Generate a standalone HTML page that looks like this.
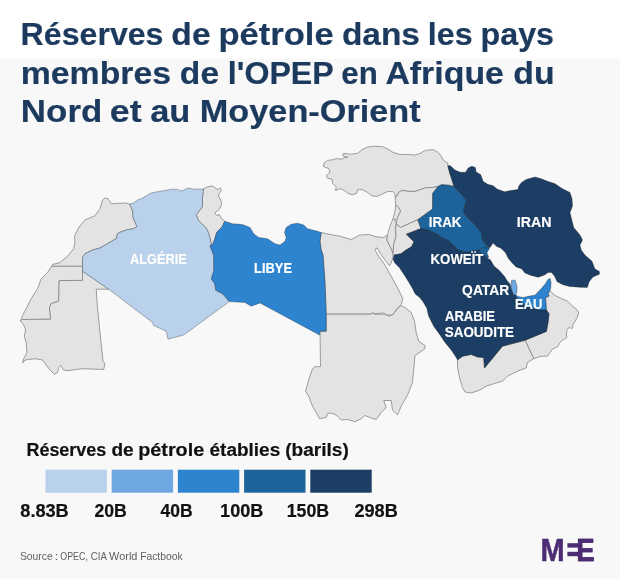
<!DOCTYPE html>
<html lang="fr">
<head>
<meta charset="utf-8">
<title>Réserves de pétrole dans les pays membres de l'OPEP</title>
<style>
html,body{margin:0;padding:0;background:#f8f8f8;}
body{width:620px;height:579px;overflow:hidden;font-family:"Liberation Sans",sans-serif;}
svg{display:block;}
text{font-family:"Liberation Sans",sans-serif;}
.t{font-weight:700;font-size:32px;fill:#1b3a5e;stroke:#1b3a5e;stroke-width:0.2;}
.c{font-weight:700;font-size:14.7px;fill:#ffffff;stroke:#ffffff;stroke-width:0.15;}
.lt{font-weight:700;font-size:18px;fill:#111111;stroke:#111111;stroke-width:0.2;}
.ll{font-weight:700;font-size:18px;fill:#111111;stroke:#111111;stroke-width:0.2;}
.src{font-size:10.7px;fill:#606060;}
.lg{font-weight:700;}
.g polygon{fill:#e3e3e3;stroke:#808080;stroke-width:0.75;stroke-linejoin:round;}
.b polygon{stroke:#000;stroke-opacity:0.4;stroke-width:0.7;stroke-linejoin:round;}
</style>
</head>
<body>
<svg width="620" height="579" viewBox="0 0 620 579">
<rect x="0" y="0" width="620" height="579" fill="#f8f8f8"/>
<rect x="0" y="0" width="620" height="58.5" fill="#ffffff"/>

<g class="g">
<polygon points="129.8,204 125,203 111.2,203.7 108,198.7 105,198 102.5,200 100,208.7 95,215.7 85,220 78.7,227.5 74.5,236.2 75,242.5 73.7,248.7 67.5,256.2 60,262.5 52.5,264.5 51.7,266.3 82.5,266.3 82.5,257.5 85,253.7 92.5,250 100,248 107.5,243.7 116.2,238.7 117.5,233.7 120,232.3 127.1,229.7 133.3,228.8 136.9,226.5 133.3,218.1 132.4,210.2"/>
<polygon points="51.7,266.3 82.5,266.3 82.5,280.4 59.2,280.6 58.7,301.2 51.2,303.7 49.5,307.5 50.7,319.2 22,319.5 20.5,321.2 22.5,315.5 26.2,308.7 31.2,298.7 37.5,288.7 41.2,278.7 47.5,272.5"/>
<polygon points="20.5,321.2 22,319.5 50.7,319.2 49.5,307.5 51.2,303.7 58.7,301.2 59.2,280.6 82.5,280.4 82.5,271.2 108.7,289.2 96.2,289.2 97.5,307.5 100,332.5 103,361.2 105,363.7 103.7,369.5 82.5,368.7 67.5,370.7 63.7,370 60.7,365.5 58.7,367.5 57.5,372.5 54.5,374.2 50,370 46.2,365 42.5,360 35,358.7 25,360 22.5,363 23.7,358.7 27,352.5 26.2,342.5 24.2,336.2 25.7,330 23.7,325"/>
<polygon points="203.4,188.9 206.9,187.1 212.3,185.9 215.8,188 217.2,189.8 220.2,188 221.5,189.8 219.4,193.3 218.5,196 221.1,200.4 221.5,204.8 219.4,209.3 214.9,212.8 216.7,215.5 219.4,214.6 221.1,218.1 224.7,221.2 222,227 216.7,232.3 214.9,238.6 212.6,244.8 211.4,244.8 210.5,240.3 208.7,233.2 206.1,227.9 201.6,223.5 198.1,219.9 196.3,214.6 202.5,206.6 202.5,197.7"/>
<polygon points="321.2,232.5 330,234.5 340,236.2 351.2,239.5 360,235 368.7,234.5 377.5,237 383.7,237.5 387.5,235 386.9,240 390.4,247.1 393.1,253.3 392.7,257.7 391.3,263 389.5,265.7 386,261.3 381.5,255.1 377.1,248 376.2,248 375.3,250.6 378.9,256.8 384.2,263.9 387.7,270.1 392.2,278.1 396.6,286.1 400.2,293.2 402.8,298.5 401.6,303.8 397.5,308.2 392.5,315 386.2,315 383.7,313 373.7,313.7 372.5,312.5 371.2,314.2 326.2,314.2 325,282.5 323,255 321.2,250 320,241.2"/>
<polygon points="326.2,314.2 371.2,314.2 372.5,312.5 373.7,314.2 385,314.2 388.7,316.2 392.5,315 397.5,308.7 401.2,305.5 405,307.5 411.2,312.5 414.5,321.2 416.2,332.5 418.7,341.2 425,345.5 425,348.7 415,355.5 413.7,370 412.5,382.5 407.5,395 401.2,406.2 397.5,415 392.5,410 391.2,400.5 383.7,400.5 386.2,407.5 381.2,412.5 376.2,419.5 371.2,418 365,415.5 361.2,418.7 355,421.7 347.5,419.5 341.2,420 336.2,415 331.2,413 327.5,413.7 326.2,417.5 319.5,418.7 316.2,412.5 312.5,406.2 308.7,396.2 305.5,391.2 308.7,380 312.5,368.7 315,366.7 320.5,366.7 320,331.2 326.2,331.2"/>
<polygon points="323.5,166.6 323.9,163 327.4,160.4 332.7,159.8 336.3,158.6 341.6,159.1 344.3,157.7 347.8,157.4 342.5,155.6 343.4,153.3 350.5,154.2 357.6,153.3 362,149.7 367.3,147.1 373.6,146.2 382.4,146.7 387.7,148.9 393.1,152.4 400.2,154.5 409,154.5 415,155.1 420.3,153.3 425.6,150.3 433.6,149.7 438.1,152.4 441.6,156.8 443.4,160.4 447.8,163 447.8,165.7 449.6,172.8 451.4,178.1 453.1,183.4 454,186.4 448.7,185.2 441.6,184.7 438.1,186.4 432.7,187.5 425.6,187.8 420.3,189.6 415,191.4 409,191.4 401.9,190.5 398.7,192.3 396.6,196.7 395.2,197.6 394.8,193.2 393.1,191.7 387.7,191.4 382.4,194 377.1,196.4 371.8,195.8 367.3,192.3 362,189.6 357.6,189.6 356.7,193.2 352.3,194.9 347.8,193.2 344.3,190.5 340.7,188.7 335.4,190.5 336.3,187 332.7,183.4 331.9,179 327.4,178.1 326.5,175.4 330.1,171.9 328.3,168.4"/>
<polygon points="395.2,197.6 396.6,196.7 398.7,192.3 401.9,190.5 409,191.4 415,191.4 420.3,189.6 425.6,187.8 432.7,187.5 438.1,186.4 432.7,193.2 432.6,209 417.8,219.7 400.5,227.5 396.2,223.7 397.5,217.5 400.5,211.2 398.7,207.5 395.7,205"/>
<polygon points="395.7,205 398.7,207.5 400.5,211.2 397.5,217.5 395,220 393,218.7 395,211.2"/>
<polygon points="393,218.7 395,220 396.2,223.7 395.5,230 396.2,236.2 393.7,243.7 393.1,253.3 390.4,247.1 386.9,240 387.5,235 390,226"/>
<polygon points="396.2,223.7 400.5,227.5 417.8,219.7 420.9,228.5 406.4,234.2 414,241.8 411.5,246.8 405.2,250.6 401.2,253.7 394,255.1 393.1,253.3 393.7,243.7 396.2,236.2 395.5,230"/>
<polygon points="525.1,340.3 546.4,331.4 548.1,322.5 549,313.7 546.4,310.1 545.5,297.7 549,296.1 548.1,293.3 549.9,290.6 554.4,295.1 561.5,298.6 567.7,301.3 572.1,305.7 576.5,309.3 578.7,312.8 577.4,317.2 574.8,321.7 572.5,325.2 573,327.5 571.2,328.7 569.4,327 566.8,330.5 566.4,334.9 566.8,337.6 562.3,340.3 559.7,342.9 557.9,346.5 552.6,349.1 550,352.5 547.5,356.2 541.2,356.2 533.7,358.7"/>
<polygon points="457.5,360 462.5,356.2 471.2,354.5 477.5,357 483.7,357.5 484.5,368 502.5,346.2 525.1,340.3 533.7,358.7 527.5,362.5 526.2,368 517.5,371.2 507.5,376.2 502.5,381.2 493.7,383.7 486.2,386.2 480,390 471.2,393 465,392 462.5,387.5 459.5,377.5 457.5,367.5"/>
</g>
<g class="b">
<polygon points="129.8,204 133.3,203.1 137.7,199.9 143.1,197.7 146.6,195.6 150.2,193.3 155.5,192.1 164.4,190.6 171.5,189.2 176.8,189.2 181.2,191 188.3,188 194.5,189.2 203.4,188.9 202.5,197.7 202.5,206.6 196.3,214.6 198.1,219.9 201.6,223.5 206.1,227.9 208.7,233.2 210.5,240.3 211.4,244.8 210,246.2 213.7,255 213.9,270.5 211.3,279 214.7,283.5 215.8,290.3 222.6,293.7 229.4,301.6 183.7,335 168,339.2 166.2,331.2 153.7,325.5 152.5,322.5 108.7,289.2 82.5,271.2 82.5,257.5 85,253.7 92.5,250 100,248 107.5,243.7 116.2,238.7 117.5,233.7 120,232.3 127.1,229.7 133.3,228.8 136.9,226.5 133.3,218.1 132.4,210.2" fill="#b9d1eb"/>
<polygon points="232.5,223.7 242.5,224.5 250,227.5 253.7,233.7 258.7,237.5 267.5,238.7 275,243.7 280,245 285,241.2 286.2,237.5 284.5,232.5 286.2,227.5 291.2,224.2 297.5,223.2 303.7,225 307.5,228.7 317.5,231.2 321.2,232.5 320,241.2 321.2,250 323,255 325,282.5 326.2,313.7 326.2,331.2 320,331.2 319.5,335 260,303 251.2,306.2 245,302.5 229.4,301.6 222.6,293.7 215.8,290.3 214.7,283.5 211.3,279 213.9,270.5 213.7,255 210,246.2 211.4,244.8 212.6,244.8 214.9,238.6 216.7,232.3 222,227 224.7,221.2" fill="#2f84d0"/>
<polygon points="438.1,186.4 441.6,184.7 448.7,185.2 454,186.4 457.6,190.5 462.9,195.8 466.5,200.3 464.7,205.6 463.7,212.5 467.5,217.5 476.2,226.2 481.2,232.5 482.5,240 486.2,245 490,247.5 487.8,247.7 483.7,248 478.7,250 472.9,251.2 468.4,252.1 462.7,251.5 457.1,249.3 454.8,246.5 451.5,243.1 446.9,239.7 441.3,237.4 436.8,234 427.9,229.8 420.9,228.5 417.8,219.7 432.6,209 432.7,193.2" fill="#1d649d"/>
<polygon points="478.7,250 483.7,248 487.8,247.7 489.5,248.3 486.9,252.7 488.6,257.1 487.7,258.5 484,255 480,252.5" fill="#1d649d"/>
<polygon points="447.8,165.7 450.5,165.7 454.9,170.1 460.2,172.3 465.6,172.3 468.2,168 471.8,166.2 475.3,167.5 476.2,171.9 480.6,174.6 483.3,181.6 487.7,184.3 493.1,185.7 497.5,189.3 504.6,191.7 510.8,190.5 517.9,189.6 518.8,186.1 521.5,182.5 526.2,179.5 535,177 541.2,178.7 547.5,181.2 555,183.7 562.5,188.7 570,192.5 572,198.7 572.5,206.2 570,212.5 571.2,217.5 573.7,227.5 580,235 582.5,240 580,245 581.2,250 585.4,255.6 592,261.2 594.8,268.7 599.4,271.5 599.4,274.3 592.9,277.1 589.2,281.8 587.3,287.4 579.8,287.3 569.4,286.4 562.3,284.6 556.9,281.4 554.8,276.6 551.6,272.6 548.1,272.6 544.5,274.9 538.3,277.2 531.2,275.4 525,273.1 521.5,268.7 516.1,266.9 511.7,262.5 508.1,258 505.5,252.7 501,248.3 496.6,246.5 493.1,243 490,247.5 486.2,245 482.5,240 481.2,232.5 476.2,226.2 467.5,217.5 463.7,212.5 464.7,205.6 466.5,200.3 462.9,195.8 457.6,190.5 454,186.4 453.1,183.4 451.4,178.1 449.6,172.8" fill="#1c3e64"/>
<polygon points="406.4,234.2 420.9,228.5 427.9,229.8 436.8,234 441.3,237.4 446.9,239.7 451.5,243.1 454.8,246.5 457.1,249.3 462.7,251.5 468.4,252.1 472.9,251.2 478.7,250 480,252.5 484,255 487.7,258.5 490.4,259.8 494,266 499.3,270.4 504.6,276.6 507.3,281.1 509.9,283.7 511.2,288.2 513.5,294.4 515.2,294.9 518,299.5 527.4,306.5 540.5,310 546.4,310.1 549,313.7 548.1,322.5 546.4,331.4 525.1,340.3 502.5,346.2 484.5,368 483.7,357.5 477.5,357 471.2,354.5 462.5,356.2 457.5,360 456.2,357.5 451.2,350 445,342.5 440,335 433.7,326.2 428.7,316.2 426.8,308.2 423.2,302 419.7,297.6 415.2,294 412.6,288.7 409,282.5 404.6,275.4 399.3,267.5 394.8,263 393.1,259.5 394,255.1 401.2,253.7 405.2,250.6 411.5,246.8 414,241.8" fill="#1c3e64"/>
<polygon points="511.7,280.2 515.2,280.2 517,286.4 517,291.7 515.8,295.2 513.5,294.4 511.2,288.2 511.2,282.8" fill="#6ea7e2"/>
<polygon points="515.2,294.9 518.8,296.7 523.2,297.4 529.4,296.1 534.8,295.2 538.3,291.7 541.9,287.8 545.4,283.7 548.1,279.3 550.2,278.4 551.1,282.8 550.7,288.2 549.9,290.6 548.1,293.3 549,296.1 545.5,297.7 546.4,310.1 540.5,310 527.4,306.5 518,299.5" fill="#2f84d0"/>
</g>
<text class="t" y="45.4"><tspan x="20.63" textLength="142.86" lengthAdjust="spacingAndGlyphs">Réserves</tspan> <tspan x="171.39" textLength="39.21" lengthAdjust="spacingAndGlyphs">de</tspan> <tspan x="218.4" textLength="115.23" lengthAdjust="spacingAndGlyphs">pétrole</tspan> <tspan x="341.9" textLength="78.03" lengthAdjust="spacingAndGlyphs">dans</tspan> <tspan x="427.84" textLength="44.74" lengthAdjust="spacingAndGlyphs">les</tspan> <tspan x="480.53" textLength="73.51" lengthAdjust="spacingAndGlyphs">pays</tspan></text>
<text class="t" y="83.8"><tspan x="20.68" textLength="150.41" lengthAdjust="spacingAndGlyphs">membres</tspan> <tspan x="179.86" textLength="39.22" lengthAdjust="spacingAndGlyphs">de</tspan> <tspan x="227.87" textLength="105.3" lengthAdjust="spacingAndGlyphs">l'OPEP</tspan> <tspan x="341.37" textLength="36.47" lengthAdjust="spacingAndGlyphs">en</tspan> <tspan x="385.4" textLength="118.5" lengthAdjust="spacingAndGlyphs">Afrique</tspan> <tspan x="513.36" textLength="41.3" lengthAdjust="spacingAndGlyphs">du</tspan></text>
<text class="t" y="122.1"><tspan x="20.87" textLength="81.44" lengthAdjust="spacingAndGlyphs">Nord</tspan> <tspan x="109.85" textLength="31.83" lengthAdjust="spacingAndGlyphs">et</tspan> <tspan x="150.23" textLength="40.17" lengthAdjust="spacingAndGlyphs">au</tspan> <tspan x="199.81" textLength="220.84" lengthAdjust="spacingAndGlyphs">Moyen-Orient</tspan></text>
<text class="c" x="129.99" y="263.9" textLength="56.72" lengthAdjust="spacingAndGlyphs">ALGÉRIE</text>
<text class="c" x="254.07" y="273.3" textLength="37.92" lengthAdjust="spacingAndGlyphs">LIBYE</text>
<text class="c" x="428.84" y="226.8" textLength="32.65" lengthAdjust="spacingAndGlyphs">IRAK</text>
<text class="c" x="516.87" y="226.8" textLength="34.71" lengthAdjust="spacingAndGlyphs">IRAN</text>
<text class="c" x="430.59" y="263.9" textLength="52.84" lengthAdjust="spacingAndGlyphs">KOWEÏT</text>
<text class="c" x="462.11" y="294.8" textLength="47.2" lengthAdjust="spacingAndGlyphs">QATAR</text>
<text class="c" x="514.92" y="309.2" textLength="27.55" lengthAdjust="spacingAndGlyphs">EAU</text>
<text class="c" x="444.96" y="321" textLength="50.1" lengthAdjust="spacingAndGlyphs">ARABIE</text>
<text class="c" x="444.79" y="337" textLength="69.28" lengthAdjust="spacingAndGlyphs">SAOUDITE</text>
<text class="lt" y="455.7"><tspan x="26.52" textLength="79.68" lengthAdjust="spacingAndGlyphs">Réserves</tspan> <tspan x="111.45" textLength="22.23" lengthAdjust="spacingAndGlyphs">de</tspan> <tspan x="138.22" textLength="65.95" lengthAdjust="spacingAndGlyphs">pétrole</tspan> <tspan x="209.59" textLength="70.62" lengthAdjust="spacingAndGlyphs">établies</tspan> <tspan x="285.24" textLength="63.53" lengthAdjust="spacingAndGlyphs">(barils)</tspan></text>
<rect x="45.5" y="469.7" width="61.4" height="23" fill="#b9d1eb"/>
<rect x="111.7" y="469.7" width="61.4" height="23" fill="#6ea7e2"/>
<rect x="177.9" y="469.7" width="61.4" height="23" fill="#2f84d0"/>
<rect x="244.1" y="469.7" width="61.4" height="23" fill="#1d649d"/>
<rect x="310.3" y="469.7" width="61.4" height="23" fill="#1c3e64"/>
<text class="ll" x="20.3" y="516.6" textLength="48.43" lengthAdjust="spacingAndGlyphs">8.83B</text>
<text class="ll" x="94.44" y="516.6" textLength="32.37" lengthAdjust="spacingAndGlyphs">20B</text>
<text class="ll" x="160.46" y="516.6" textLength="32.06" lengthAdjust="spacingAndGlyphs">40B</text>
<text class="ll" x="220.14" y="516.6" textLength="43.24" lengthAdjust="spacingAndGlyphs">100B</text>
<text class="ll" x="286.69" y="516.6" textLength="42.43" lengthAdjust="spacingAndGlyphs">150B</text>
<text class="ll" x="354.45" y="516.6" textLength="43.37" lengthAdjust="spacingAndGlyphs">298B</text>
<text class="src" y="560.3"><tspan x="19.95" textLength="32.8" lengthAdjust="spacingAndGlyphs">Source</tspan> <tspan x="54.64" textLength="4.02" lengthAdjust="spacingAndGlyphs">:</tspan> <tspan x="60.31" textLength="27.58" lengthAdjust="spacingAndGlyphs">OPEC,</tspan> <tspan x="90.77" textLength="15.52" lengthAdjust="spacingAndGlyphs">CIA</tspan> <tspan x="109.12" textLength="28.28" lengthAdjust="spacingAndGlyphs">World</tspan> <tspan x="140.19" textLength="42.39" lengthAdjust="spacingAndGlyphs">Factbook</tspan></text>
<g fill="#4c2c72" aria-label="MEE">
<rect x="567.4" y="543.2" width="11.4" height="4.4"/>
<rect x="567.4" y="551.8" width="11.4" height="4.4"/>
<text class="lg" font-size="30.6" y="560.6"><tspan x="540.58" textLength="24.16" lengthAdjust="spacingAndGlyphs" stroke="#4c2c72" stroke-width="0.5">M</tspan><tspan x="576.3" textLength="18.43" lengthAdjust="spacingAndGlyphs" stroke="#4c2c72" stroke-width="0.3">E</tspan><tspan x="576.3" textLength="18.43" lengthAdjust="spacingAndGlyphs" stroke="#4c2c72" stroke-width="0.3">E</tspan></text>
</g>
</svg>
</body>
</html>
